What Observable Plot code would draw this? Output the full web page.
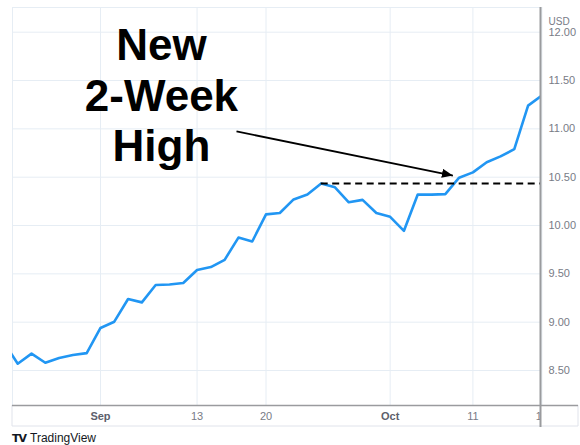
<!DOCTYPE html>
<html>
<head>
<meta charset="utf-8">
<script src="https://cdn.jsdelivr.net/npm/d3@7"></script>
<script src="https://cdn.jsdelivr.net/npm/@observablehq/plot@0.6"></script>
<style>
  body { margin: 0; background: #fff; }
  #chart svg { display: block; }
</style>
</head>
<body>
<div id="chart"></div>
<script>
// ---- Data (trading days; weekends/holidays skipped as on the source chart) ----
const dates = [
  "2021-08-23","2021-08-24","2021-08-25","2021-08-26","2021-08-27","2021-08-30","2021-08-31",
  "2021-09-01","2021-09-02","2021-09-03","2021-09-07","2021-09-08","2021-09-09","2021-09-10",
  "2021-09-13","2021-09-14","2021-09-15","2021-09-16","2021-09-17",
  "2021-09-20","2021-09-21","2021-09-22","2021-09-23","2021-09-24",
  "2021-09-27","2021-09-28","2021-09-29","2021-09-30","2021-10-01",
  "2021-10-04","2021-10-05","2021-10-06","2021-10-07","2021-10-08",
  "2021-10-11","2021-10-12","2021-10-13","2021-10-14","2021-10-15","2021-10-18"
];
const prices = [
  8.79, 8.57, 8.675, 8.58, 8.63, 8.66, 8.68,
  8.94, 9.005, 9.24, 9.205, 9.385, 9.39, 9.405,
  9.54, 9.57, 9.645, 9.875, 9.835,
  10.115, 10.13, 10.27, 10.32, 10.435,
  10.395, 10.24, 10.265, 10.13, 10.09,
  9.945, 10.32, 10.32, 10.325, 10.495,
  10.55, 10.655, 10.715, 10.79, 11.24, 11.345
];
const dayTickDates = ["2021-09-13", "2021-09-20", "2021-10-11", "2021-10-18"];
const dayTickLabels = ["13", "20", "11", "18"];
const monthTickDates = ["2021-09-01", "2021-10-01"];
const monthTickLabels = ["Sep", "Oct"];
const priceTicks = [8.5, 9, 9.5, 10, 10.5, 11, 11.5, 12];
const currencyLabel = "USD";
const highDate = "2021-09-24";          // prior 2-week high
const highLevel = 10.435;
const annotationText = "New\n2-Week\nHigh";
const annotationAt = {x: 4.42, y: 11.355};            // centre of the text block
const arrowFrom = {x: 9.86, y: 10.973};
const arrowTo = {x: 25.55, y: 10.517};
const brand = "TradingView";

// ---- derived table ----
const origin = dates.indexOf("2021-09-01");
const idx = d => dates.indexOf(d) - origin;
const series = dates.map((d, i) => ({i: i - origin, date: d, price: prices[i]}));
const xDomain = [-6.38, 31.9];
const yDomain = [8.138, 12.2555];

const grid = "#e6edf4";
const axisGray = "#9a9b9e";
const textGray = "#787b86";

const chart = Plot.plot({
  width: 580,
  height: 445,
  marginLeft: 12,
  marginRight: 40,
  marginTop: 7,
  marginBottom: 40,
  style: {fontFamily: "'Liberation Sans', Arial, sans-serif", background: "#fff"},
  x: {domain: xDomain, axis: null},
  y: {domain: yDomain, axis: null},
  marks: [
    Plot.gridY(priceTicks, {stroke: grid, strokeOpacity: 1}),
    Plot.gridX([...monthTickDates, ...dayTickDates].map(idx), {stroke: grid, strokeOpacity: 1}),
    Plot.ruleY([yDomain[1]], {stroke: grid, strokeOpacity: 1}),
    Plot.ruleX([xDomain[0]], {stroke: grid, strokeOpacity: 1}),
    Plot.axisY(priceTicks, {
      anchor: "right", tickSize: 0, tickPadding: 8, fontSize: 11,
      tickFormat: d3.format(".2f"), color: textGray, label: null
    }),
    Plot.axisX(dayTickDates.map(idx), {
      anchor: "bottom", tickSize: 0, tickPadding: 7, fontSize: 11, color: textGray,
      tickFormat: (d, k) => dayTickLabels[k], label: null
    }),
    Plot.axisX(monthTickDates.map(idx), {
      anchor: "bottom", tickSize: 0, tickPadding: 7, fontSize: 11, color: "#5d606b",
      fontWeight: "bold", tickFormat: (d, k) => monthTickLabels[k], label: null
    }),
    Plot.text([currencyLabel], {
      frameAnchor: "top-right", dx: 8, dy: 10, textAnchor: "start",
      fontSize: 10, fill: textGray, text: d => d
    }),
    Plot.line(series, {x: "i", y: "price", stroke: "#2196f3", strokeWidth: 2.6, clip: true,
      strokeLinejoin: "round"}),
    Plot.ruleY([highLevel], {x1: idx(highDate), x2: xDomain[1], stroke: "#000",
      strokeWidth: 2, strokeDasharray: "7,4.5"}),
    Plot.link([{a: arrowFrom, b: arrowTo}], {
      x1: d => d.a.x, y1: d => d.a.y, x2: d => d.b.x, y2: d => d.b.y,
      stroke: "#000", strokeWidth: 1.8, className: "ann-arrow"
    }),
    Plot.text([annotationText], {
      x: annotationAt.x, y: annotationAt.y, text: d => d,
      fontSize: 44, fontWeight: "bold", fill: "#000", lineHeight: 1.14,
      lineAnchor: "middle", textAnchor: "middle"
    })
  ]
});

// ---- decorations: arrowhead, pane borders, brand ----
const svg = d3.select(chart);
const sx = chart.scale("x"), sy = chart.scale("y");
const L = sx.apply(xDomain[0]), R = sx.apply(xDomain[1]);
const T = sy.apply(yDomain[1]), B = sy.apply(yDomain[0]);
const W = 580;

const defs = svg.insert("defs", ":first-child");
defs.append("marker")
  .attr("id", "ahead").attr("markerUnits", "userSpaceOnUse")
  .attr("viewBox", "0 -5 11 10").attr("refX", 11).attr("refY", 0)
  .attr("markerWidth", 11).attr("markerHeight", 10).attr("orient", "auto")
  .append("path").attr("d", "M0,-4.6L11,0L0,4.6Z").attr("fill", "#000");
svg.selectAll(".ann-arrow path, .ann-arrow line").attr("marker-end", "url(#ahead)");

const deco = svg.append("g");
// mask the part of the date label that slides under the price scale
deco.append("rect").attr("x", R + 0.5).attr("y", B).attr("width", W - R).attr("height", 22).attr("fill", "#fff");
const light = "#e0e3eb";
deco.append("line").attr("x1", L).attr("x2", W - 2).attr("y1", B + 21).attr("y2", B + 21).attr("stroke", light);
deco.append("line").attr("x1", L).attr("x2", L).attr("y1", B).attr("y2", B + 21).attr("stroke", light);
deco.append("line").attr("x1", W - 2).attr("x2", W - 2).attr("y1", B).attr("y2", B + 21).attr("stroke", light);
deco.append("line").attr("x1", L).attr("x2", W - 2).attr("y1", B + 0.5).attr("y2", B + 0.5).attr("stroke", axisGray).attr("stroke-width", 1.5);
deco.append("line").attr("x1", R + 0.5).attr("x2", R + 0.5).attr("y1", T).attr("y2", B + 22).attr("stroke", axisGray).attr("stroke-width", 2);

const brandG = deco.append("g").attr("transform", `translate(${L},${B + 33})`)
  .attr("text-anchor", "start");
brandG.append("text").attr("x", 0).attr("y", 0).attr("dy", "0.35em")
  .attr("text-anchor", "start")
  .attr("font-size", 11).attr("font-weight", 900).attr("fill", "#131722")
  .attr("font-family", "'DejaVu Sans', sans-serif").attr("letter-spacing", "-1").text("TV");
brandG.append("text").attr("x", 18).attr("y", 0).attr("dy", "0.35em")
  .attr("text-anchor", "start")
  .attr("font-size", 12).attr("fill", "#131722").text(brand);

document.getElementById("chart").append(chart);
</script>
</body>
</html>
